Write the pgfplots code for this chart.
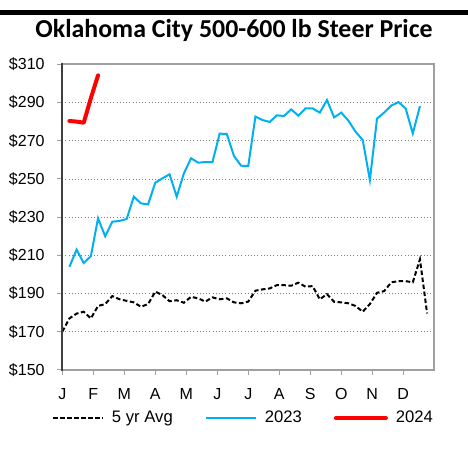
\documentclass[border=0pt]{standalone}
\usepackage{fontspec}
\setmainfont{Liberation Sans}
\newfontfamily\titlefont{Carlito}
\usepackage{pgfplots}
\pgfplotsset{compat=1.18}
\definecolor{blue23}{HTML}{00B0F0}
\definecolor{axgray}{HTML}{A0A0A0}
\definecolor{axdark}{HTML}{404040}
\definecolor{gridgray}{HTML}{808080}
\begin{document}
\begin{tikzpicture}[x=1pt,y=1pt]
\path[use as bounding box] (-46.7,-60) rectangle (304.3,277.5);
\fill[black] (-46.7,266.25) rectangle (304.3,270.0);
\node[anchor=base, font=\titlefont\bfseries\fontsize{19.4}{23}\selectfont] at (128.8,249.3) {Oklahoma City 500-600 lb Steer Price};
\begin{axis}[
  at={(0,0)}, anchor=south west, scale only axis,
  width=279pt, height=229.3pt,
  xmin=0, xmax=52, ymin=150, ymax=310,
  clip=false,
  xtick={0,4.3333,8.6667,13,17.3333,21.6667,26,30.3333,34.6667,39,43.3333,47.6667},
  xticklabels={J,F,M,A,M,J,J,A,S,O,N,D},
  ytick={150,170,...,310},
  yticklabels={\$150,\$170,\$190,\$210,\$230,\$250,\$270,\$290,\$310},
  tick label style={font=\fontsize{12}{14}\selectfont},
  yticklabel style={xshift=-6pt},
  xticklabel style={yshift=-6.5pt},
  xtick pos=bottom, ytick pos=left,
  tick align=outside, major tick length=3.75pt,
  tick style={axgray, line width=0.75pt},
  axis line style={axgray, line width=1.5pt},
  ymajorgrids, major grid style={gridgray, dotted, line width=0.6pt},
  legend columns=3,
  legend style={at={(0.488,-0.157)}, anchor=center, draw=none, fill=none,
    font=\fontsize{12.5}{14}\selectfont,
    /tikz/every odd column/.append style={column sep=4pt},
    /tikz/every even column/.append style={column sep=22pt}},
  legend image code/.code={\draw[#1] (0pt,0pt) -- (37.5pt,0pt);},
]
\addplot[black, line width=1.5pt, dash pattern=on 3.4pt off 1.9pt] coordinates {
(0,170) (1,177) (2,179.5) (3,180.5) (4,177) (5,183.5) (6,184.5) (7,188.7) (8,187) (9,186.2)
(10,185.4) (11,183.1) (12,184.5) (13,191) (14,189.2) (15,186) (16,186.5) (17,185.2) (18,188.3) (19,187.5)
(20,185.8) (21,188) (22,187) (23,187.5) (24,185.4) (25,184.9) (26,185.8) (27,191.5) (28,192.2) (29,192.7)
(30,194.4) (31,194.4) (32,194.1) (33,195.7) (34,193.6) (35,193.9) (36,187) (37,189.7) (38,185.7) (39,185.4)
(40,184.9) (41,183.5) (42,180.5) (43,184.5) (44,190.4) (45,191.3) (46,195.9) (47,196.5) (48,196.5) (49,195.9)
(50,207.9) (51,179.6)};
\addlegendentry{5 yr Avg}
\addplot[blue23, line width=1.5pt] coordinates {
(1,204) (2,213) (3,206) (4,209.6) (5,229.4) (6,220) (7,227.6) (8,228) (9,229) (10,240.7)
(11,237.2) (12,236.7) (13,248) (14,250.3) (15,252.4) (16,240.7) (17,252.9) (18,260.8) (19,258.5) (20,258.8)
(21,258.8) (22,273.7) (23,273.5) (24,262) (25,256.9) (26,256.8) (27,282.6) (28,280.8) (29,279.8) (30,283.3)
(31,282.9) (32,286.4) (33,283.1) (34,286.9) (35,286.9) (36,284.7) (37,291.3) (38,282.2) (39,284.7) (40,280.5)
(41,274.7) (42,270.4) (43,249.4) (44,281.6) (45,284.7) (46,288.4) (47,290.2) (48,286.9) (49,273.8) (50,288.1)};
\addlegendentry{2023}
\addplot[red, line width=3pt, line cap=round, line join=round] coordinates {
(1,280.3) (2,280) (3,279.4) (4,292.3) (5,304.2)};
\addlegendentry{2024}
\end{axis}
\draw[axdark, line width=1.5pt] (0,-0.75) -- (0,230);
\end{tikzpicture}
\end{document}
